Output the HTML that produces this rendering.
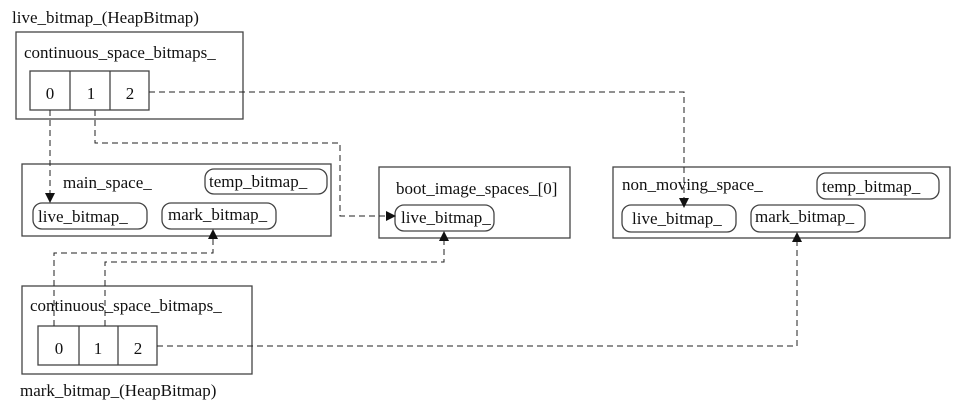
<!DOCTYPE html>
<html><head><style>
html,body{margin:0;padding:0;background:#fff;}
svg{display:block;}
text{font-family:"Liberation Serif",serif;font-size:17px;fill:#111;}
</style></head><body>
<svg width="962" height="406" viewBox="0 0 962 406" xmlns="http://www.w3.org/2000/svg">
<defs>
<marker id="a" markerWidth="10" markerHeight="10" refX="9" refY="5" orient="auto" markerUnits="userSpaceOnUse">
<path d="M0,0 L10,5 L0,10 Z" fill="#111"/></marker>
</defs>
<g fill="none" stroke="#444" stroke-width="1.3">
<rect x="16" y="32" width="227" height="87"/>
<rect x="30" y="71" width="119" height="39"/>
<line x1="70" y1="71" x2="70" y2="110"/><line x1="110" y1="71" x2="110" y2="110"/>
<rect x="22" y="164" width="309" height="72"/>
<rect x="205" y="169" width="122" height="25" rx="9"/>
<rect x="33" y="203" width="114" height="26" rx="9"/>
<rect x="162" y="203" width="114" height="26" rx="9"/>
<rect x="379" y="167" width="191" height="71"/>
<rect x="395" y="205" width="99" height="26" rx="9"/>
<rect x="613" y="167" width="337" height="71"/>
<rect x="817" y="173" width="122" height="26" rx="9"/>
<rect x="622" y="205" width="114" height="27" rx="9"/>
<rect x="751" y="205" width="114" height="27" rx="9"/>
<rect x="22" y="286" width="230" height="88"/>
<rect x="38" y="326" width="119" height="39"/>
<line x1="79" y1="326" x2="79" y2="365"/><line x1="118" y1="326" x2="118" y2="365"/>
</g>
<g fill="none" stroke="#222" stroke-width="1" stroke-dasharray="6,4">
<path d="M149,92 H684 V207" marker-end="url(#a)"/>
<path d="M50,110 V202" marker-end="url(#a)"/>
<path d="M95,110 V143 H340 V216 H395" marker-end="url(#a)"/>
<path d="M54,326 V253 H213 V230" marker-end="url(#a)"/>
<path d="M105,326 V262 H444 V232" marker-end="url(#a)"/>
<path d="M157,346 H797 V233" marker-end="url(#a)"/>
</g>
<text x="12" y="23">live_bitmap_(HeapBitmap)</text>
<text x="24" y="58">continuous_space_bitmaps_</text>
<text x="50" y="99" text-anchor="middle">0</text>
<text x="91" y="99" text-anchor="middle">1</text>
<text x="130" y="99" text-anchor="middle">2</text>
<text x="63" y="188">main_space_</text>
<text x="209" y="187">temp_bitmap_</text>
<text x="38" y="222">live_bitmap_</text>
<text x="168" y="220">mark_bitmap_</text>
<text x="396" y="194">boot_image_spaces_[0]</text>
<text x="401" y="223">live_bitmap_</text>
<text x="622" y="190">non_moving_space_</text>
<text x="822" y="192">temp_bitmap_</text>
<text x="632" y="224">live_bitmap_</text>
<text x="755" y="222">mark_bitmap_</text>
<text x="30" y="311">continuous_space_bitmaps_</text>
<text x="59" y="354" text-anchor="middle">0</text>
<text x="98" y="354" text-anchor="middle">1</text>
<text x="138" y="354" text-anchor="middle">2</text>
<text x="20" y="396">mark_bitmap_(HeapBitmap)</text>
</svg>
</body></html>
